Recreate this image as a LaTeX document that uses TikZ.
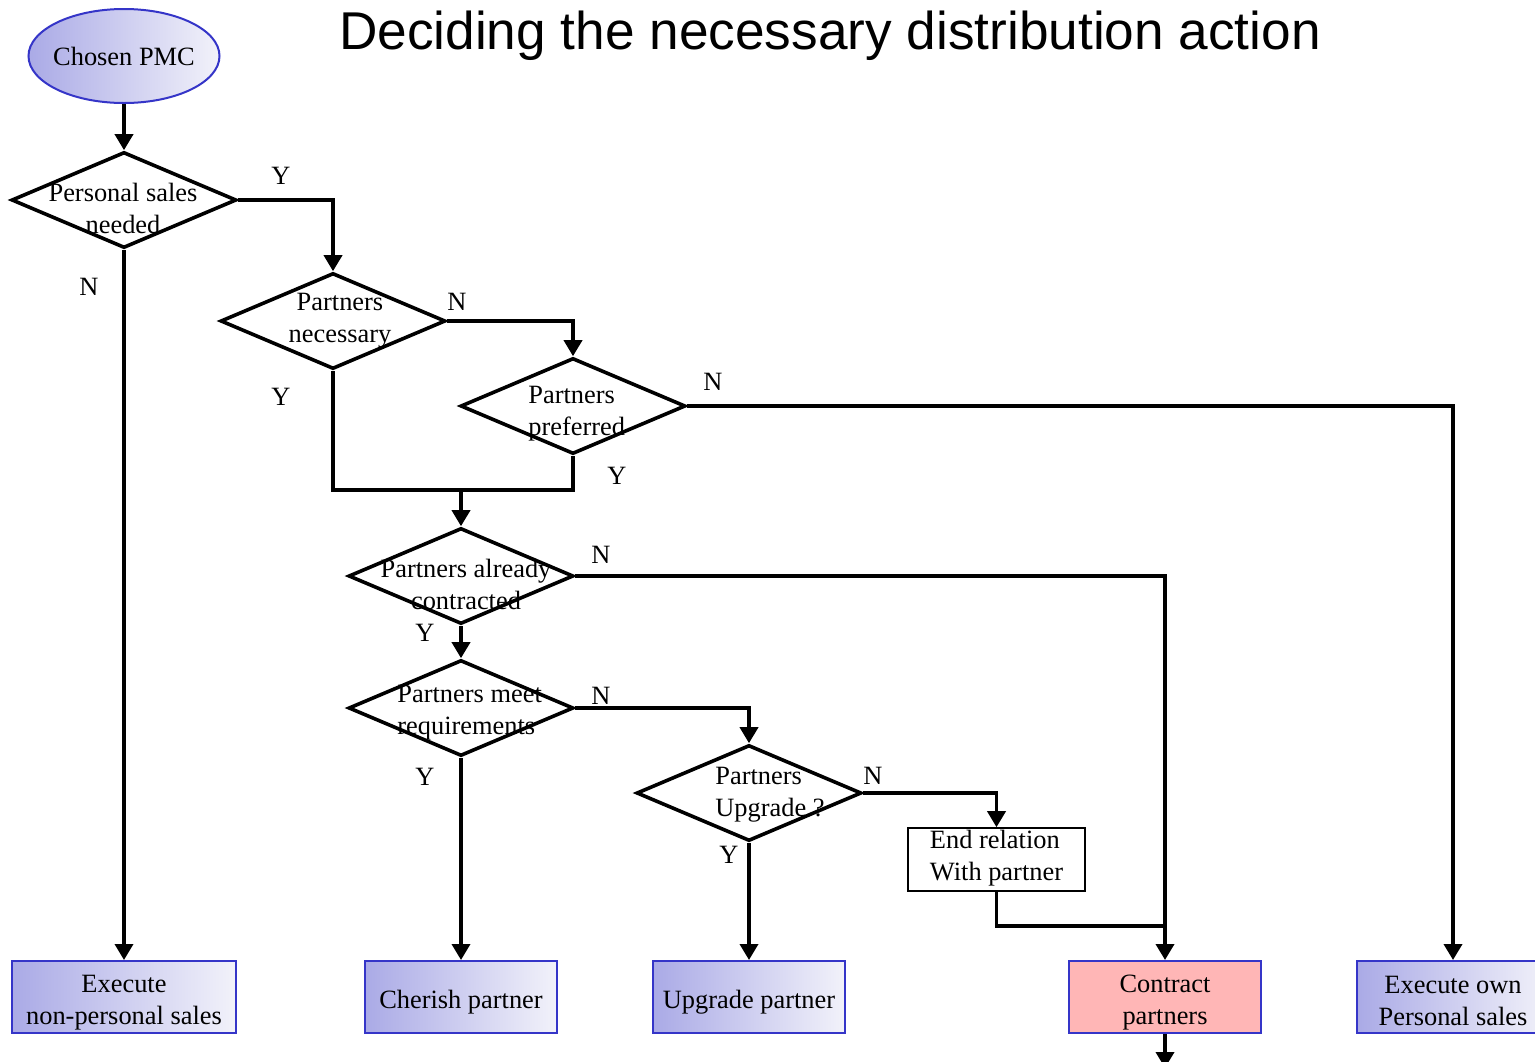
\documentclass[tikz,border=0pt]{standalone}
\usepackage{fontspec}
\setmainfont{Liberation Serif}
\newfontfamily\titlefont{Liberation Sans}
\usetikzlibrary{shapes.geometric,arrows.meta}
\definecolor{bluebord}{RGB}{53,53,200}
\definecolor{gradL}{RGB}{170,170,230}
\definecolor{gradR}{RGB}{242,242,250}
\definecolor{pinkfill}{RGB}{255,182,182}
\tikzset{
  conn/.style={line width=1.8pt},
  arr/.style={conn,-{Triangle[length=8pt,width=9pt]}},
  dia/.style={diamond,draw,line width=1.8pt,minimum width=112.5pt,minimum height=48pt,inner sep=0pt},
  txt/.style={font=\fontsize{13.2}{16}\selectfont,inner sep=0pt},
  lbl/.style={font=\fontsize{13.2}{16}\selectfont,inner sep=0pt},
  gradbox/.style={draw=bluebord,line width=1pt,left color=gradL,right color=gradR,
    minimum height=36pt,inner sep=0pt},
}
\begin{document}
\begin{tikzpicture}[x=0.5pt,y=-0.5pt]
\useasboundingbox (0,0) rectangle (1535,1061);
% title
\node[font=\titlefont\fontsize{26.6}{30}\selectfont,inner sep=0pt] (title) at (830,36) {Deciding the necessary distribution action};
% start
\node[ellipse,draw=bluebord,line width=1pt,left color=gradL,right color=gradR,
  minimum width=95.5pt,minimum height=47pt,inner sep=0pt] (pmc) at (124,56) {};
\node[txt] (pmct) at (124,56) {Chosen PMC};
% diamonds
\node[dia] (d1) at (124,200) {};
\node[dia] (d2) at (333,321) {};
\node[dia] (d3) at (573,406) {};
\node[dia] (d4) at (461,576) {};
\node[dia] (d5) at (461,708) {};
\node[dia] (d6) at (749,793) {};
\node[txt,align=center] (t1) at (123,208) {Personal sales\\needed};
\node[txt,align=center] (t2) at (340,321) {Partners\\necessary};
\node[txt,align=left,anchor=west] (t3) at (528,414) {Partners\\preferred};
\node[txt,align=center] (t4) at (466,584) {Partners already\\contracted};
\node[txt,align=left,anchor=west] (t5) at (397,713) {Partners meet\\requirements};
\node[txt,align=left,anchor=west] (t6) at (715,795) {Partners\\Upgrade ?};
% end relation box
\node[draw,line width=0.8pt,minimum width=88.5pt,minimum height=31.5pt,inner sep=0pt] (endr) at (996.5,859.5) {};
\node[txt,align=left] (endt) at (996.5,858) {End relation\\With partner};
% bottom boxes
\node[gradbox,minimum width=112pt] (ex1) at (124,997) {};
\node[gradbox,minimum width=96pt] (ex2) at (461,997) {};
\node[gradbox,minimum width=96pt] (ex3) at (749,997) {};
\node[gradbox,minimum width=96pt,left color=pinkfill,right color=pinkfill] (ex4) at (1165,997) {};
\node[gradbox,minimum width=96pt] (ex5) at (1453,997) {};
\node[txt,align=center] (ex1t) at (124,1003) {Execute\\non-personal sales};
\node[txt,align=center] (ex2t) at (461,1002) {Cherish partner};
\node[txt,align=center] (ex3t) at (749,1002) {Upgrade partner};
\node[txt,align=center] (ex4t) at (1165,1003) {Contract\\partners};
\node[txt,align=center] (ex5t) at (1453,1001) {Execute own\\Personal sales};
% coordinates
\coordinate (j1) at (461,490);
\coordinate (j2) at (1165,926);
\coordinate (out) at (1165,1068);
% connectors
\draw[arr] (pmc.south) -- (d1.north);
\draw[arr] (d1.east) -| (d2.north);
\draw[arr] (d1.south) -- (ex1.north);
\draw[arr] (d2.east) -| (d3.north);
\draw[conn] (d2.south) |- (j1);
\draw[conn] (d3.south) |- (j1);
\draw[arr] (j1) -- (d4.north);
\draw[arr] (d3.east) -| (ex5.north);
\draw[arr] (d4.east) -| (ex4.north);
\draw[arr] (d4.south) -- (d5.north);
\draw[arr] (d5.east) -| (d6.north);
\draw[arr] (d5.south) -- (ex2.north);
\draw[arr] (d6.east) -| (endr.north);
\draw[arr] (d6.south) -- (ex3.north);
\draw[conn] (endr.south) |- (j2);
\draw[arr] (ex4.south) -- (out);
% labels
\node[lbl] (l1) at (281,176) {Y};
\node[lbl] (l2) at (89,287) {N};
\node[lbl] (l3) at (457,302) {N};
\node[lbl] (l4) at (281,397) {Y};
\node[lbl] (l5) at (713,382) {N};
\node[lbl] (l6) at (617,476) {Y};
\node[lbl] (l7) at (601,555) {N};
\node[lbl] (l8) at (425,633) {Y};
\node[lbl] (l9) at (601,696) {N};
\node[lbl] (l10) at (425,777) {Y};
\node[lbl] (l11) at (873,776) {N};
\node[lbl] (l12) at (729,855) {Y};
\end{tikzpicture}
\end{document}
